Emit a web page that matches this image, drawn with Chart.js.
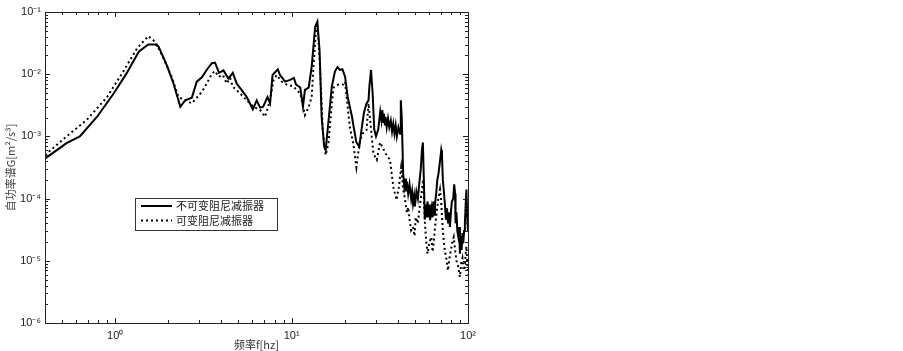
<!DOCTYPE html>
<html>
<head>
<meta charset="utf-8">
<title>自功率谱</title>
<script src="https://cdn.jsdelivr.net/npm/chart.js@4.4.1/dist/chart.umd.min.js"></script>
<style>
  html, body { margin: 0; padding: 0; background: #fff; }
  #wrap { width: 903px; height: 351px; }
</style>
</head>
<body>
<div id="wrap"><canvas id="psdChart" width="903" height="351"></canvas></div>
<script>
// 不可变阻尼减振器 (实线)
const fixedFreq = [0.40, 0.53, 0.63, 0.79, 0.98, 1.16, 1.36, 1.54, 1.69, 1.76, 1.96, 2.14, 2.34, 2.49, 2.72,
  2.90, 3.10, 3.30, 3.53, 3.68, 3.88, 4.11, 4.38, 4.64, 4.88, 5.20, 5.57, 6.03, 6.34, 6.63, 6.90, 7.30,
  7.55, 7.80, 8.35, 8.60, 9.20, 9.81, 10.3, 10.6, 11.2, 11.6, 11.9, 12.5, 13.0, 13.6, 14.0, 14.4, 14.8,
  15.3, 15.6, 16.2, 16.9, 17.6, 18.2, 18.8, 19.4, 20.1, 20.8, 22.0, 22.4, 23.3, 24.2, 24.9, 25.7, 26.6,
  27.3, 27.6, 28.2, 28.8, 29.4, 30.1, 31.0, 31.8, 32.3, 32.7, 33.1, 33.4, 33.8, 34.1, 34.6, 35.2, 35.8,
  36.5, 37.1, 37.7, 38.3, 38.9, 39.5, 40.3, 41.2, 41.6, 42.1, 42.9, 43.5, 44.0, 44.5, 45.0, 45.8, 46.6,
  47.6, 48.2, 48.8, 49.5, 50.0, 51.0, 52.0, 53.0, 54.0, 54.8, 55.5, 56.2, 56.9, 57.5, 58.0, 59.0, 59.5,
  60.5, 61.0, 62.0, 63.0, 63.5, 64.5, 65.0, 66.0, 67.0, 68.0, 69.4, 70.5, 71.2, 72.0, 73.0, 74.0, 75.0,
  76.0, 77.0, 78.0, 79.0, 80.0, 81.0, 82.5, 83.5, 84.5, 85.0, 86.0, 87.0, 88.0, 89.0, 90.0, 91.0, 92.0,
  93.0, 94.0, 95.0, 96.0, 97.0, 98.0, 99.0, 100];
const fixedPsd = [4.4e-4, 7.8e-4, 1.0e-3, 2.07e-3, 4.9e-3, 1.03e-2, 2.3e-2, 3.0e-2, 3.0e-2, 2.8e-2, 1.4e-2, 7.1e-3, 3.0e-3, 3.8e-3, 4.2e-3,
  7.6e-3, 8.9e-3, 1.17e-2, 1.5e-2, 1.53e-2, 1.05e-2, 1.15e-2, 8.5e-3, 1.05e-2, 7.1e-3, 5.6e-3, 4.3e-3, 2.73e-3, 3.8e-3, 2.9e-3, 3.0e-3, 4.3e-3,
  3.4e-3, 9.7e-3, 1.2e-2, 9.7e-3, 7.6e-3, 8.1e-3, 8.7e-3, 6.8e-3, 6.1e-3, 3.0e-3, 5.6e-3, 6.1e-3, 1.32e-2, 5.8e-2, 7.0e-2, 2.45e-2, 2.07e-3,
  6.8e-4, 6.0e-4, 1.8e-3, 6.3e-3, 1.1e-2, 1.3e-2, 1.17e-2, 1.2e-2, 9.1e-3, 4.3e-3, 2.07e-3, 1.5e-3, 8.0e-4, 6.8e-4, 1.27e-3, 2.4e-3, 3.4e-3,
  3.8e-3, 6.3e-3, 1.17e-2, 4.9e-3, 1.3e-3, 1.0e-3, 1.3e-3, 2.5e-3, 1.8e-3, 2.65e-3, 1.7e-3, 2.3e-3, 1.5e-3, 2.07e-3, 1.4e-3, 1.95e-3, 1.4e-3,
  1.8e-3, 1.2e-3, 1.6e-3, 1.1e-3, 1.5e-3, 1.0e-3, 1.4e-3, 1.1e-3, 3.8e-3, 2.07e-3, 2.55e-4, 1.6e-4, 2.1e-4, 1.3e-4, 1.9e-4, 1.2e-4, 1.7e-4,
  1.0e-4, 1.3e-4, 8.3e-5, 1.1e-4, 7.5e-5, 1.3e-4, 1.0e-4, 1.8e-4, 3.0e-4, 6.0e-4, 8.0e-4, 2.0e-4, 4.6e-5, 8.0e-5, 5.0e-5, 9.0e-5, 5.0e-5,
  8.0e-5, 4.5e-5, 7.0e-5, 5.0e-5, 9.0e-5, 5.5e-5, 8.0e-5, 1.2e-4, 2.0e-4, 2.5e-4, 4.0e-4, 6.0e-4, 5.0e-4, 2.0e-4, 1.3e-4, 8.0e-5, 4.6e-5,
  7.0e-5, 4.0e-5, 6.0e-5, 3.5e-5, 6.0e-5, 9.0e-5, 1.0e-4, 1.7e-4, 1.2e-4, 4.0e-5, 6.0e-5, 3.0e-5, 2.5e-5, 3.5e-5, 1.3e-5, 2.5e-5, 1.5e-5,
  2.8e-5, 1.9e-5, 3.0e-5, 4.0e-5, 8.0e-5, 1.4e-4, 5.0e-5, 3.0e-5];

// 可变阻尼减振器 (点线)
const variableFreq = [0.40, 0.53, 0.69, 0.90, 1.11, 1.33, 1.54, 1.69, 1.88, 2.09, 2.28, 2.49, 2.72, 2.90, 3.10,
  3.30, 3.53, 3.68, 3.85, 4.08, 4.29, 4.48, 4.64, 5.11, 5.57, 6.07, 6.63, 7.07, 7.55, 7.90, 8.24, 8.80,
  9.40, 10.2, 11.2, 11.9, 12.5, 13.0, 13.3, 13.7, 14.0, 14.5, 15.0, 15.6, 16.2, 16.9, 17.3, 18.4, 19.6,
  20.1, 20.5, 21.4, 22.4, 23.3, 24.4, 25.4, 26.6, 27.3, 28.2, 29.1, 30.4, 31.7, 32.7, 34.1, 36.1, 37.8,
  39.4, 40.5, 41.8, 42.8, 44.0, 45.0, 45.8, 46.7, 47.6, 48.8, 49.8, 50.5, 52.0, 53.5, 54.6, 55.7, 56.4,
  57.0, 58.0, 59.0, 60.5, 62.0, 63.0, 64.0, 65.0, 66.0, 67.5, 69.4, 70.3, 71.0, 72.0, 73.0, 74.0, 75.0,
  76.0, 77.0, 78.5, 80.0, 81.5, 83.0, 84.5, 86.0, 88.0, 90.0, 91.5, 93.0, 94.5, 96.0, 97.0, 98.0, 99.0, 100];
const variablePsd = [5.0e-4, 1.0e-3, 1.84e-3, 4.3e-3, 1.1e-2, 2.6e-2, 4.1e-2, 3.3e-2, 1.8e-2, 9.1e-3, 4.3e-3, 3.8e-3, 3.4e-3, 4.2e-3, 5.2e-3,
  7.0e-3, 1.02e-2, 1.12e-2, 9.1e-3, 9.7e-3, 7.1e-3, 8.7e-3, 6.3e-3, 4.9e-3, 3.8e-3, 3.0e-3, 2.65e-3, 2.07e-3, 3.8e-3, 8.1e-3, 9.7e-3, 7.6e-3,
  6.8e-3, 6.4e-3, 4.9e-3, 2.2e-3, 3.0e-3, 4.3e-3, 1.32e-2, 4.5e-2, 6.2e-2, 1.32e-2, 1.3e-3, 5.0e-4, 8.0e-4, 3.4e-3, 6.1e-3, 6.8e-3, 6.8e-3,
  7.6e-3, 4.3e-3, 1.4e-3, 7.5e-4, 3.2e-4, 8.7e-4, 1.12e-3, 1.27e-3, 3.4e-3, 1.3e-3, 5.3e-4, 4.2e-4, 8.0e-4, 6.8e-4, 5.3e-4, 4.2e-4, 1.5e-4,
  9.5e-5, 1.5e-4, 3.2e-4, 1.5e-4, 9.5e-5, 6.0e-5, 7.3e-5, 4.5e-5, 3.1e-5, 3.5e-5, 2.5e-5, 5.0e-5, 4.0e-5, 8.3e-5, 1.3e-4, 2.0e-4, 8.0e-5,
  4.0e-5, 2.0e-5, 1.3e-5, 2.0e-5, 2.4e-5, 1.4e-5, 2.0e-5, 3.5e-5, 5.0e-5, 9.0e-5, 1.4e-4, 1.0e-4, 6.0e-5, 3.0e-5, 2.0e-5, 1.4e-5, 1.2e-5,
  9.0e-6, 7.0e-6, 1.1e-5, 1.5e-5, 2.0e-5, 2.4e-5, 1.5e-5, 1.0e-5, 8.0e-6, 5.5e-6, 9.0e-6, 1.1e-5, 7.0e-6, 8.0e-6, 1.3e-5, 1.7e-5, 9.0e-6, 6.0e-6];

const seriesLabels = ['不可变阻尼减振器', '可变阻尼减振器'];
const xTitle = '频率f[hz]';
const yTitle = '自功率谱G[m²/s³]';
const xRange = [0.4, 100];
const yRange = [1e-6, 1e-1];

const SUP = { '-': '⁻', '0': '⁰', '1': '¹', '2': '²', '3': '³', '4': '⁴', '5': '⁵', '6': '⁶', '7': '⁷', '8': '⁸', '9': '⁹' };
const toPoints = (xs, ys) => xs.map((x, i) => ({ x, y: ys[i] }));

function logTicks(min, max) {
  const out = [];
  for (let e = Math.floor(Math.log10(min)); e <= Math.ceil(Math.log10(max)); e++) {
    for (let m = 1; m <= 9; m++) {
      const v = m * Math.pow(10, e);
      if (v >= min * 0.999 && v <= max * 1.001) out.push({ value: v });
    }
  }
  return out;
}

function decadeLabel(v) {
  const e = Math.log10(v);
  if (Math.abs(e - Math.round(e)) > 1e-6) return '';
  return '10' + String(Math.round(e)).split('').map(c => SUP[c]).join('');
}

// 边框 + 内向刻度 (MATLAB 风格)
const boxTicks = {
  id: 'boxTicks',
  afterDraw(chart) {
    const { ctx, chartArea: a, scales } = chart;
    ctx.save();
    ctx.strokeStyle = '#222';
    ctx.lineWidth = 1;
    ctx.strokeRect(a.left + 0.5, a.top + 0.5, a.right - a.left, a.bottom - a.top);
    ctx.beginPath();
    scales.x.ticks.forEach(t => {
      const p = Math.round(scales.x.getPixelForValue(t.value)) + 0.5;
      const len = decadeLabel(t.value) ? 5 : 3;
      ctx.moveTo(p, a.bottom); ctx.lineTo(p, a.bottom - len);
      ctx.moveTo(p, a.top); ctx.lineTo(p, a.top + len);
    });
    scales.y.ticks.forEach(t => {
      const p = Math.round(scales.y.getPixelForValue(t.value)) + 0.5;
      const len = decadeLabel(t.value) ? 5 : 3;
      ctx.moveTo(a.left, p); ctx.lineTo(a.left + len, p);
      ctx.moveTo(a.right, p); ctx.lineTo(a.right - len, p);
    });
    ctx.stroke();
    ctx.restore();
  }
};

// 图例 (图内方框)
const boxLegend = {
  id: 'boxLegend',
  afterDraw(chart) {
    const { ctx, chartArea: a } = chart;
    const left = a.left + 90, top = a.top + 186, w = 142, h = 32;
    ctx.save();
    ctx.fillStyle = '#fff';
    ctx.fillRect(left, top, w, h);
    ctx.strokeStyle = '#333';
    ctx.lineWidth = 1;
    ctx.strokeRect(left + 0.5, top + 0.5, w, h);
    ctx.font = '11px "Noto Sans CJK SC", sans-serif';
    ctx.textBaseline = 'middle';
    chart.data.datasets.forEach((ds, i) => {
      const y = top + 8 + i * 14.5;
      ctx.strokeStyle = ds.borderColor;
      ctx.lineWidth = ds.borderWidth;
      ctx.setLineDash(ds.borderDash || []);
      ctx.beginPath();
      ctx.moveTo(left + 6, y);
      ctx.lineTo(left + 37, y);
      ctx.stroke();
      ctx.setLineDash([]);
      ctx.fillStyle = '#222';
      ctx.fillText(ds.label, left + 41, y);
    });
    ctx.restore();
  }
};

new Chart(document.getElementById('psdChart'), {
  type: 'line',
  data: {
    datasets: [
      {
        label: seriesLabels[0],
        data: toPoints(fixedFreq, fixedPsd),
        borderColor: '#000',
        borderWidth: 2,
        pointRadius: 0,
        tension: 0,
        fill: false
      },
      {
        label: seriesLabels[1],
        data: toPoints(variableFreq, variablePsd),
        borderColor: '#000',
        borderWidth: 2,
        borderDash: [2, 3],
        pointRadius: 0,
        tension: 0,
        fill: false
      }
    ]
  },
  options: {
    responsive: false,
    animation: false,
    layout: { padding: { left: 0, top: 12, right: 435, bottom: 0 } },
    plugins: {
      legend: { display: false },
      tooltip: { enabled: false }
    },
    scales: {
      x: {
        type: 'logarithmic',
        min: xRange[0],
        max: xRange[1],
        grid: { display: false, drawTicks: false },
        border: { display: false },
        afterBuildTicks: s => { s.ticks = logTicks(xRange[0], xRange[1]); },
        afterFit: s => { s.height = 28; },
        ticks: {
          autoSkip: false,
          maxRotation: 0,
          padding: 6,
          color: '#222',
          font: { family: '"Liberation Sans", Arial, sans-serif', size: 11 },
          callback: v => decadeLabel(v)
        },
        title: {
          display: true,
          text: xTitle,
          color: '#333',
          padding: { top: -2, bottom: 0 },
          font: { family: '"Noto Sans CJK SC", sans-serif', size: 11 }
        }
      },
      y: {
        type: 'logarithmic',
        min: yRange[0],
        max: yRange[1],
        grid: { display: false, drawTicks: false },
        border: { display: false },
        afterBuildTicks: s => { s.ticks = logTicks(yRange[0], yRange[1]); },
        afterFit: s => { s.width = 45; },
        ticks: {
          autoSkip: false,
          padding: 4,
          color: '#222',
          font: { family: '"Liberation Sans", Arial, sans-serif', size: 11 },
          callback: v => decadeLabel(v)
        },
        title: {
          display: true,
          text: yTitle,
          color: '#444',
          padding: { top: 4, bottom: 0 },
          font: { family: '"Noto Sans CJK SC", sans-serif', size: 11 }
        }
      }
    }
  },
  plugins: [boxTicks, boxLegend]
});
</script>
</body>
</html>
